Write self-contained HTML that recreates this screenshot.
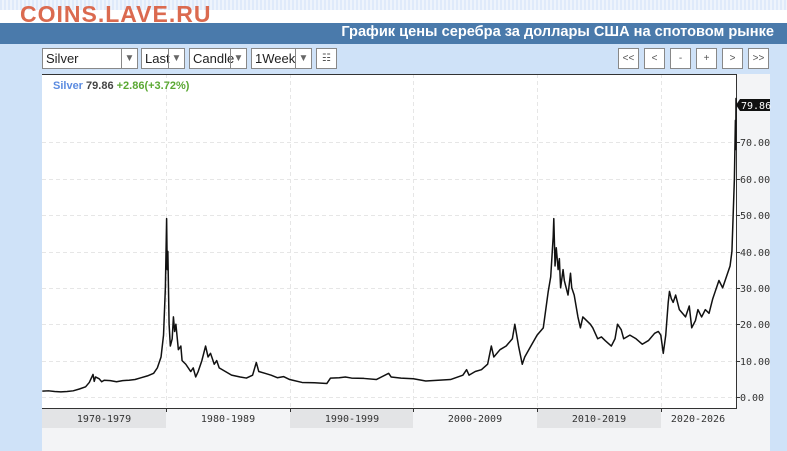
<!DOCTYPE html>
<html><head><meta charset="utf-8"><style>
body{margin:0;width:787px;height:451px;overflow:hidden;background:#cfe2f8;font-family:"Liberation Sans",sans-serif;position:relative}
.top{position:absolute;left:0;top:0;width:787px;height:10px;background:repeating-linear-gradient(90deg,#dfeafa 0 2px,#eef4fc 2px 4px)}
.white{position:absolute;left:0;top:10px;width:787px;height:13px;background:#fff}
.logo{position:absolute;left:20px;top:1px;font-weight:bold;font-size:23px;color:#db6a4f;letter-spacing:1px}
.bar{position:absolute;left:0;top:23px;width:787px;height:21px;background:#4a7aab}
.bar span{position:absolute;right:13px;top:1px;color:#fff;font-weight:bold;font-size:14.6px}
.sel{position:absolute;top:48px;height:21px;border:1px solid #888;background:#fff;box-sizing:border-box;font-size:13px;line-height:19px;padding-left:3px;color:#222}
.sel b{position:absolute;right:0;top:0;width:15px;height:19px;border-left:1px solid #888;font-size:10px;color:#666;text-align:center;font-weight:normal}
.btn{position:absolute;top:48px;width:21px;height:21px;border:1px solid #888;background:#fff;box-sizing:border-box;font-size:10px;text-align:center;line-height:19px;color:#555}
</style></head><body>
<div class="top"></div><div class="white"></div>
<div class="logo">COINS.LAVE.RU</div>
<div class="bar"><span>График цены серебра за доллары США на спотовом рынке</span></div>
<div class="sel" style="left:42px;width:96px">Silver<b>▼</b></div>
<div class="sel" style="left:141px;width:44px">Last<b>▼</b></div>
<div class="sel" style="left:189px;width:58px">Candle<b>▼</b></div>
<div class="sel" style="left:251px;width:61px">1Week<b>▼</b></div>
<div class="btn" style="left:316px">☷</div>
<div class="btn" style="left:618px">&lt;&lt;</div>
<div class="btn" style="left:644px">&lt;</div>
<div class="btn" style="left:670px">-</div>
<div class="btn" style="left:696px">+</div>
<div class="btn" style="left:722px">&gt;</div>
<div class="btn" style="left:748px">&gt;&gt;</div>
<svg style="position:absolute;left:0;top:0" width="787" height="451">
<rect x="42" y="74" width="728" height="377" fill="#f3f4f6"/>
<rect x="42" y="74" width="694" height="334" fill="#fff"/>
<rect x="42" y="408" width="124" height="20" fill="#e3e4e6"/>
<rect x="290" y="408" width="123" height="20" fill="#e3e4e6"/>
<rect x="537" y="408" width="124" height="20" fill="#e3e4e6"/>
<g stroke="#e6e6e6" stroke-dasharray="4,3" stroke-width="1">
<line x1="166.5" y1="74" x2="166.5" y2="408"/><line x1="290.5" y1="74" x2="290.5" y2="408"/><line x1="413.5" y1="74" x2="413.5" y2="408"/><line x1="537.5" y1="74" x2="537.5" y2="408"/><line x1="661.5" y1="74" x2="661.5" y2="408"/>
<line x1="42" y1="397.5" x2="736" y2="397.5"/><line x1="42" y1="361.5" x2="736" y2="361.5"/><line x1="42" y1="324.5" x2="736" y2="324.5"/><line x1="42" y1="288.5" x2="736" y2="288.5"/><line x1="42" y1="252.5" x2="736" y2="252.5"/><line x1="42" y1="215.5" x2="736" y2="215.5"/><line x1="42" y1="179.5" x2="736" y2="179.5"/><line x1="42" y1="142.5" x2="736" y2="142.5"/>
</g>
<g stroke="#333" stroke-width="1" fill="none">
<line x1="42" y1="74.5" x2="736" y2="74.5"/>
<line x1="736.5" y1="74" x2="736.5" y2="408"/>
<line x1="42" y1="408.5" x2="737" y2="408.5"/>
<line x1="166.5" y1="408" x2="166.5" y2="412"/><line x1="290.5" y1="408" x2="290.5" y2="412"/><line x1="413.5" y1="408" x2="413.5" y2="412"/><line x1="537.5" y1="408" x2="537.5" y2="412"/><line x1="661.5" y1="408" x2="661.5" y2="412"/>
<line x1="736" y1="397.5" x2="740" y2="397.5"/><line x1="736" y1="361.5" x2="740" y2="361.5"/><line x1="736" y1="324.5" x2="740" y2="324.5"/><line x1="736" y1="288.5" x2="740" y2="288.5"/><line x1="736" y1="252.5" x2="740" y2="252.5"/><line x1="736" y1="215.5" x2="740" y2="215.5"/><line x1="736" y1="179.5" x2="740" y2="179.5"/><line x1="736" y1="142.5" x2="740" y2="142.5"/>
</g>
<g font-family="DejaVu Sans Mono,monospace" font-size="10" fill="#333">
<text x="740" y="401">0.00</text><text x="740" y="365">10.00</text><text x="740" y="328">20.00</text><text x="740" y="292">30.00</text><text x="740" y="256">40.00</text><text x="740" y="219">50.00</text><text x="740" y="183">60.00</text><text x="740" y="146">70.00</text>
<text x="104" y="422" text-anchor="middle">1970-1979</text><text x="228" y="422" text-anchor="middle">1980-1989</text><text x="352" y="422" text-anchor="middle">1990-1999</text><text x="475" y="422" text-anchor="middle">2000-2009</text><text x="599" y="422" text-anchor="middle">2010-2019</text><text x="698" y="422" text-anchor="middle">2020-2026</text>
</g>
<polygon points="736,105 740,99 770,99 770,111 740,111" fill="#111"/>
<text x="741" y="109" font-family="DejaVu Sans Mono,monospace" font-size="10" fill="#fff">79.86</text>
<g transform="translate(42.3,397) scale(12.37,-3.64)">
<polyline fill="none" stroke="#111" stroke-width="1.5" vector-effect="non-scaling-stroke" stroke-linejoin="round" points="0,1.6 0.5,1.7 1,1.5 1.5,1.4 2,1.5 2.5,1.7 3,2.2 3.5,2.8 3.8,4 4.1,6.2 4.2,4.3 4.3,5.5 4.6,5 4.8,4.2 5,4.6 5.5,4.5 6,4.2 6.5,4.5 7,4.6 7.5,4.8 8,5.3 8.5,5.8 9,6.5 9.3,8 9.6,11 9.8,17 9.95,30 10.05,49 10.1,35 10.15,40 10.25,20 10.35,14 10.5,16 10.6,22 10.7,18 10.8,20 11,13 11.2,14 11.3,10 11.6,9 12,7 12.2,8 12.4,5.5 12.6,7 12.9,10 13.2,14 13.4,11 13.6,12 13.9,9 14.1,10 14.3,8 14.8,7 15.3,6 16,5.5 16.5,5.2 17,6 17.3,9.5 17.5,7 18,6.5 18.5,6 19,5.3 19.5,5.6 20,4.8 21,4.0 22,3.9 23,3.7 23.3,5.2 24,5.3 24.5,5.5 25,5.2 26,5.1 27,4.8 28,6.5 28.2,5.5 29,5.2 30,5 31,4.4 32,4.6 33,4.8 34,6 34.3,7.5 34.5,6 35,7 35.5,7.5 36,9 36.3,14 36.5,11 37,13 37.5,14 38,16 38.2,20 38.5,14 38.8,9 39,11 39.5,14 40,17 40.5,19 40.9,29 41.1,33 41.3,44 41.35,49 41.45,36 41.55,41 41.7,35 41.8,38 41.9,30 42.1,35 42.2,32 42.5,28 42.7,34 42.8,30 43,28 43.3,22 43.5,19 43.7,22 44,21 44.3,20 44.5,19 44.9,16 45.2,16.5 45.5,15.5 46,14 46.3,16 46.5,20 46.8,18.5 47,16 47.5,17 48,16 48.5,14.5 49,15.5 49.5,17.5 49.8,18 50,17 50.2,12 50.4,17 50.6,26 50.7,29 50.85,27 51,26 51.2,28 51.5,24 52,22 52.3,25 52.5,19 52.8,21 53,24 53.3,22 53.6,24 53.9,23 54.2,27 54.4,29 54.7,32 55,30 55.3,33 55.6,36 55.75,40 55.85,50 55.95,60 56,70 56.03,76 56.06,68 56.08,82 56.1,79.86"/>
</g>
<text x="53" y="89" font-size="11" font-weight="bold" fill="#5b8be0">Silver <tspan fill="#444">79.86</tspan> <tspan fill="#5aa832">+2.86(+3.72%)</tspan></text>
</svg>
</body></html>
